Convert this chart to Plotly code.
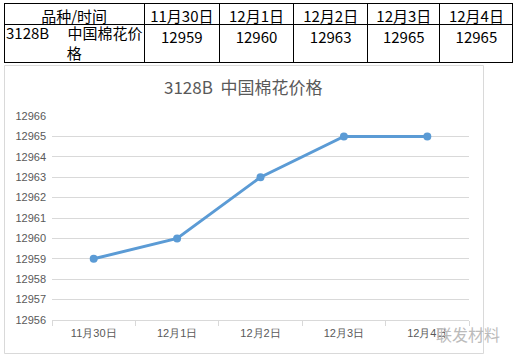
import plotly.graph_objects as go

# ---- data ----
dates = ["11月30日", "12月1日", "12月2日", "12月3日", "12月4日"]
prices = [12959, 12960, 12963, 12965, 12965]
row_label = "3128B\u3000 中国棉花价<br>格"
header_label = "品种/时间"
title_text = "3128B  中国棉花价格"
y_ticks = list(range(12956, 12967))

W, H = 517, 358

def px_x(x):
    return x / W

def px_y(y):
    return 1 - y / H

col_widths = [140, 75, 74, 74, 72, 73]
tbl_left, tbl_top, head_h, body_h = 4, 3, 21, 38

fig = go.Figure()

# Table at top (row label drawn as a two-line annotation on its cell)
fig.add_trace(go.Table(
    domain=dict(x=[px_x(tbl_left), px_x(tbl_left + sum(col_widths) + 1)],
                y=[px_y(tbl_top + head_h + body_h + 1), px_y(tbl_top)]),
    columnwidth=col_widths,
    header=dict(
        values=[header_label] + dates,
        height=head_h,
        align="center",
        line=dict(color="black", width=1),
        fill=dict(color="white"),
        font=dict(family="Noto Sans CJK SC", size=15, color="black"),
    ),
    cells=dict(
        values=[[""]] + [[str(p)] for p in prices],
        height=body_h,
        align="center",
        line=dict(color="black", width=1),
        fill=dict(color="white"),
        font=dict(family="Noto Sans CJK SC", size=15, color="black"),
    ),
))

# Line chart
fig.add_trace(go.Scatter(
    x=dates, y=prices, mode="lines+markers",
    line=dict(color="#5B9BD5", width=3),
    marker=dict(color="#5B9BD5", size=8),
    showlegend=False, cliponaxis=False,
))

fig.update_layout(
    width=W, height=H,
    margin=dict(l=0, r=0, t=0, b=0, pad=0, autoexpand=False),
    paper_bgcolor="white", plot_bgcolor="white",
    showlegend=False,
    font=dict(family="Liberation Sans", color="#595959"),
    xaxis=dict(
        domain=[px_x(52), px_x(469)],
        type="category",
        range=[-0.5, len(dates) - 0.5],
        tickson="boundaries",
        ticks="outside", ticklen=5, tickcolor="#D9D9D9",
        ticklabelstandoff=3,
        showline=True, linecolor="#D9D9D9", linewidth=1,
        showgrid=False, zeroline=False, automargin=False,
        tickfont=dict(family="Liberation Sans", size=11, color="#595959"),
        fixedrange=True,
    ),
    yaxis=dict(
        domain=[px_y(320), px_y(116)],
        range=[12956, 12966],
        tickvals=y_ticks,
        ticktext=[str(v) for v in y_ticks],
        showgrid=True, gridcolor="#D9D9D9", gridwidth=1,
        showline=False, zeroline=False, ticks="", automargin=False,
        ticklabelstandoff=5,
        tickfont=dict(family="Liberation Sans", size=11, color="#595959"),
        fixedrange=True,
    ),
    shapes=[dict(type="rect", xref="paper", yref="paper",
                 x0=px_x(4.5), x1=px_x(483.5), y0=px_y(353.5), y1=px_y(65.5),
                 line=dict(color="#D9D9D9", width=1), layer="below")],
    annotations=[
        dict(text=row_label, xref="paper", yref="paper",
             x=px_x(tbl_left + col_widths[0] / 2),
             y=px_y(tbl_top + head_h + body_h / 2),
             xanchor="center", yanchor="middle", align="center",
             showarrow=False,
             font=dict(family="Noto Sans CJK SC", size=15, color="black")),
        dict(text=title_text, xref="paper", yref="paper",
             x=px_x(243), y=px_y(87), xanchor="center", yanchor="middle",
             showarrow=False,
             font=dict(family="Noto Sans CJK SC", size=17, color="#595959")),
        dict(text="联发材料", xref="paper", yref="paper",
             x=px_x(468), y=px_y(334), xanchor="center", yanchor="middle",
             showarrow=False,
             font=dict(family="Noto Sans CJK SC", size=16, color="#BBBBBB")),
    ],
)

fig.write_html(
    "out.html",
    config={"displayModeBar": False},
    post_script="document.body.style.margin='0px';document.body.style.overflow='hidden';",
)
